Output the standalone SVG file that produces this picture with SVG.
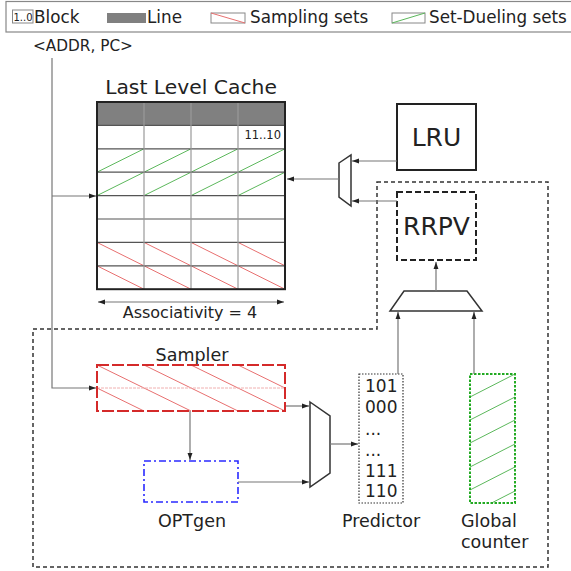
<svg xmlns="http://www.w3.org/2000/svg" width="571" height="571" viewBox="0 0 571 571">
<defs>
<marker id="ah" viewBox="0 0 10 10" refX="10" refY="5" markerWidth="7" markerHeight="7" markerUnits="userSpaceOnUse" orient="auto-start-reverse">
<path d="M0,1.5 L10,5 L0,8.5 z" fill="#222"/>
</marker>
<clipPath id="gcClip"><rect x="470" y="374" width="45" height="129"/></clipPath>
</defs>
<style>
text{font-family:"DejaVu Sans","Liberation Sans",sans-serif;fill:#222}
.conn{stroke:#777;stroke-width:1.2;fill:none}
.arr{marker-end:url(#ah)}
.vgrid{stroke:#999;stroke-width:1.2}
.hgrid{stroke:#555;stroke-width:1.2}
.green{stroke:#5cb85c;stroke-width:1}
.red{stroke:#e87070;stroke-width:1}
.mux{fill:#fff;stroke:#333;stroke-width:1.5}
</style>
<rect width="571" height="571" fill="#fff"/>

<g id="legend">
<rect x="6" y="1.5" width="580" height="30.5" fill="none" stroke="#888" stroke-width="1.2"/>
<rect x="12.5" y="10" width="20.5" height="13" fill="#fff" stroke="#888" stroke-width="1"/>
<text x="13.5" y="21" font-size="10">1..0</text>
<text x="34" y="23" font-size="16.8">Block</text>
<rect x="107" y="13" width="39" height="10" fill="#808080"/>
<text x="147" y="23" font-size="16.8">Line</text>
<rect x="211" y="13" width="34" height="10" fill="#fff" stroke="#888" stroke-width="1"/>
<line x1="211" y1="13" x2="245" y2="23" class="red"/>
<text x="250" y="23" font-size="16.8">Sampling sets</text>
<rect x="392" y="13" width="33" height="10" fill="#fff" stroke="#888" stroke-width="1"/>
<line x1="392" y1="23" x2="425" y2="13" class="green"/>
<text x="429" y="23" font-size="16.8">Set-Dueling sets</text>
</g>

<g id="addr">
<text x="33" y="51" font-size="15.3">&lt;ADDR, PC&gt;</text>
</g>

<g id="cache">
<text x="191" y="94" font-size="20.3" text-anchor="middle">Last Level Cache</text>
<rect x="97" y="102" width="188" height="23.4" fill="#808080"/>
<g class="green">
<line x1="97" y1="172.2" x2="144" y2="148.8"/><line x1="144" y1="172.2" x2="191" y2="148.8"/><line x1="191" y1="172.2" x2="238" y2="148.8"/><line x1="238" y1="172.2" x2="285" y2="148.8"/>
<line x1="97" y1="195.6" x2="144" y2="172.2"/><line x1="144" y1="195.6" x2="191" y2="172.2"/><line x1="191" y1="195.6" x2="238" y2="172.2"/><line x1="238" y1="195.6" x2="285" y2="172.2"/>
</g>
<g class="red">
<line x1="97" y1="242.4" x2="144" y2="265.8"/><line x1="144" y1="242.4" x2="191" y2="265.8"/><line x1="191" y1="242.4" x2="238" y2="265.8"/><line x1="238" y1="242.4" x2="285" y2="265.8"/>
<line x1="97" y1="265.8" x2="144" y2="289.2"/><line x1="144" y1="265.8" x2="191" y2="289.2"/><line x1="191" y1="265.8" x2="238" y2="289.2"/><line x1="238" y1="265.8" x2="285" y2="289.2"/>
</g>
<g class="hgrid">
<line x1="97" y1="125.4" x2="285" y2="125.4"/><line x1="97" y1="148.8" x2="285" y2="148.8"/><line x1="97" y1="172.2" x2="285" y2="172.2"/><line x1="97" y1="195.6" x2="285" y2="195.6"/><line x1="97" y1="219" x2="285" y2="219"/><line x1="97" y1="242.4" x2="285" y2="242.4"/><line x1="97" y1="265.8" x2="285" y2="265.8"/>
</g>
<g class="vgrid">
<line x1="144" y1="102" x2="144" y2="289.2"/><line x1="191" y1="102" x2="191" y2="289.2"/><line x1="238" y1="102" x2="238" y2="289.2"/>
</g>
<rect x="97" y="102" width="188" height="187.2" fill="none" stroke="#222" stroke-width="2"/>
<text x="281" y="139" font-size="11.5" text-anchor="end">11..10</text>
</g>

<g id="associativity">
<line x1="98" y1="302" x2="284" y2="302" class="conn" marker-start="url(#ah)" marker-end="url(#ah)"/>
<text x="190" y="318" font-size="16" text-anchor="middle">Associativity = 4</text>
</g>

<g id="region">
<path d="M377,182 H548 V567 H33 V329 H377 Z" fill="none" stroke="#333" stroke-width="1.5" stroke-dasharray="4,3"/>
</g>

<g id="lru">
<rect x="397" y="104" width="79" height="66" fill="#fff" stroke="#222" stroke-width="2"/>
<text x="436.5" y="146" font-size="25" text-anchor="middle">LRU</text>
</g>

<g id="rrpv">
<rect x="397" y="192" width="79" height="68" fill="#fff" stroke="#222" stroke-width="2" stroke-dasharray="6,3"/>
<text x="436.5" y="235" font-size="25" text-anchor="middle">RRPV</text>
</g>

<g id="mux1">
<polygon points="339,163 351,155 351,206 339,197" class="mux"/>
</g>

<g id="adder">
<polygon points="404,291 467,291 482,311 390,311" class="mux"/>
</g>

<g id="sampler">
<text x="192" y="361" font-size="17.5" text-anchor="middle">Sampler</text>
<g class="red">
<line x1="97" y1="365" x2="144" y2="388"/><line x1="144" y1="365" x2="191" y2="388"/><line x1="191" y1="365" x2="238" y2="388"/><line x1="238" y1="365" x2="285" y2="388"/>
<line x1="97" y1="388" x2="144" y2="411"/><line x1="144" y1="388" x2="191" y2="411"/><line x1="191" y1="388" x2="238" y2="411"/><line x1="238" y1="388" x2="285" y2="411"/>
</g>
<line x1="97" y1="388" x2="285" y2="388" stroke="#f0b0b0" stroke-width="1" stroke-dasharray="3,1"/>
<rect x="97" y="365" width="188" height="46" fill="none" stroke="#d42a2a" stroke-width="2" stroke-dasharray="12,3"/>
</g>

<g id="optgen">
<rect x="144" y="461" width="94" height="41" fill="none" stroke="#2a2aff" stroke-width="1.6" stroke-dasharray="7,3,2,3"/>
<text x="192" y="527" font-size="17.5" text-anchor="middle">OPTgen</text>
</g>

<g id="mux2">
<polygon points="310,402 330,416 330,473 310,487" class="mux"/>
</g>

<g id="predictor">
<rect x="359" y="374" width="44" height="129" fill="#fff" stroke="#333" stroke-width="1.2" stroke-dasharray="1.5,1.5"/>
<g font-size="17">
<text x="365" y="392">101</text>
<text x="365" y="413">000</text>
<text x="365" y="435">...</text>
<text x="365" y="456">...</text>
<text x="365" y="477">111</text>
<text x="365" y="497">110</text>
</g>
<text x="381" y="527" font-size="17.5" text-anchor="middle">Predictor</text>
</g>

<g id="global">
<g clip-path="url(#gcClip)" class="green">
<line x1="470" y1="397" x2="515" y2="374"/>
<line x1="470" y1="420" x2="515" y2="397"/>
<line x1="470" y1="443" x2="515" y2="420"/>
<line x1="470" y1="467" x2="515" y2="444"/>
<line x1="470" y1="490" x2="515" y2="467"/>
<line x1="470" y1="514" x2="515" y2="491"/>
</g>
<rect x="470" y="374" width="45" height="129" fill="none" stroke="#22aa22" stroke-width="2" stroke-dasharray="2.5,1.5"/>
<text x="461" y="527" font-size="17.5">Global</text>
<text x="461" y="548" font-size="17.5">counter</text>
</g>

<g id="connectors">
<polyline points="52,58 52,388 96,388" class="conn arr"/>
<line x1="52" y1="196" x2="96" y2="196" class="conn arr"/>
<line x1="339" y1="179" x2="287" y2="179" class="conn arr"/>
<line x1="397" y1="161" x2="352" y2="161" class="conn arr"/>
<line x1="397" y1="201" x2="352" y2="201" class="conn arr"/>
<line x1="436" y1="291" x2="436" y2="262" class="conn arr"/>
<line x1="398" y1="374" x2="398" y2="312" class="conn arr"/>
<line x1="474" y1="374" x2="474" y2="312" class="conn arr"/>
<line x1="190" y1="411" x2="190" y2="460" class="conn arr"/>
<line x1="286" y1="406" x2="309" y2="406" class="conn arr"/>
<line x1="238" y1="482" x2="309" y2="482" class="conn arr"/>
<line x1="330" y1="444" x2="358" y2="444" class="conn arr"/>
</g>
</svg>
